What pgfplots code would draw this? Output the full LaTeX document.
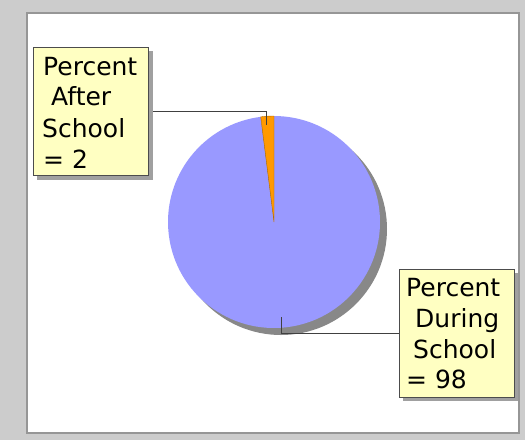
\documentclass[border=0pt]{standalone}
\usepackage{pgfplots}
\usepackage{pgfplotstable}
\usepackage{fontspec}
\setmainfont{DejaVu Sans}
\pgfplotsset{compat=1.18}

\definecolor{bgout}{RGB}{204,204,204}
\definecolor{frame}{RGB}{150,150,150}
\definecolor{during}{RGB}{153,153,255}
\definecolor{after}{RGB}{255,153,0}
\definecolor{pieshadow}{RGB}{136,136,136}
\definecolor{boxfill}{RGB}{255,255,194}
\definecolor{boxshadow}{RGB}{160,160,160}

% slice values (percent)
\pgfplotstableread{
label  value
After  2
During 98
}\piedata

\begin{document}
\begin{tikzpicture}
\pgfplotstablegetelem{0}{value}\of\piedata \let\vafter\pgfplotsretval
\pgfplotstablegetelem{1}{value}\of\piedata \let\vduring\pgfplotsretval
\pgfmathsetmacro{\aend}{90+3.6*\vafter}
\pgfmathsetmacro{\bend}{\aend+3.6*\vduring}
\begin{axis}[
    width=525pt, height=440pt, scale only axis,
    xmin=0, xmax=525, ymin=0, ymax=440,
    y dir=reverse, hide axis, clip=false,
]
% background and panel
\fill[bgout] (axis cs:0,0) rectangle (axis cs:525,440);
\fill[white, draw=frame, line width=2pt] (axis cs:27,12.5) rectangle (axis cs:518.5,433);

% pie shadow
\fill[pieshadow] (axis cs:281,229) circle[radius=106pt];
% slices
\fill[during] (axis cs:274,222) -- ++(\aend:106pt) arc[start angle=\aend, end angle=\bend, radius=106pt] -- cycle;
\fill[after, draw=after!70!black, line width=0.4pt] (axis cs:274,222) -- ++(90:106pt) arc[start angle=90, end angle=\aend, radius=106pt] -- cycle;

% leader lines
\draw[black!75, line width=0.8pt] (axis cs:148,111) -- (axis cs:266,111) -- (axis cs:266,125);
\draw[black!75, line width=0.8pt] (axis cs:399,333) -- (axis cs:281,333) -- (axis cs:281,317);

% label boxes
\fill[boxshadow] (axis cs:37,51) rectangle (axis cs:153,180);
\fill[boxfill, draw=black!70, line width=0.8pt] (axis cs:33,47) rectangle (axis cs:148,175.5);
\fill[boxshadow] (axis cs:403,273) rectangle (axis cs:518,401);
\fill[boxfill, draw=black!70, line width=0.8pt] (axis cs:399,269) rectangle (axis cs:514,397);

\begin{scope}[every node/.style={anchor=base west, inner sep=0pt, font=\fontsize{25}{30}\selectfont, text=black}]
\node at (axis cs:43,75) {Percent};
\node at (axis cs:51,105) {After};
\node at (axis cs:42,137) {School};
\node at (axis cs:43,168) {= 2};
\node at (axis cs:406,296) {Percent};
\node at (axis cs:415,327) {During};
\node at (axis cs:413,358) {School};
\node at (axis cs:406,388) {= 98};
\end{scope}
\end{axis}
\end{tikzpicture}
\end{document}
